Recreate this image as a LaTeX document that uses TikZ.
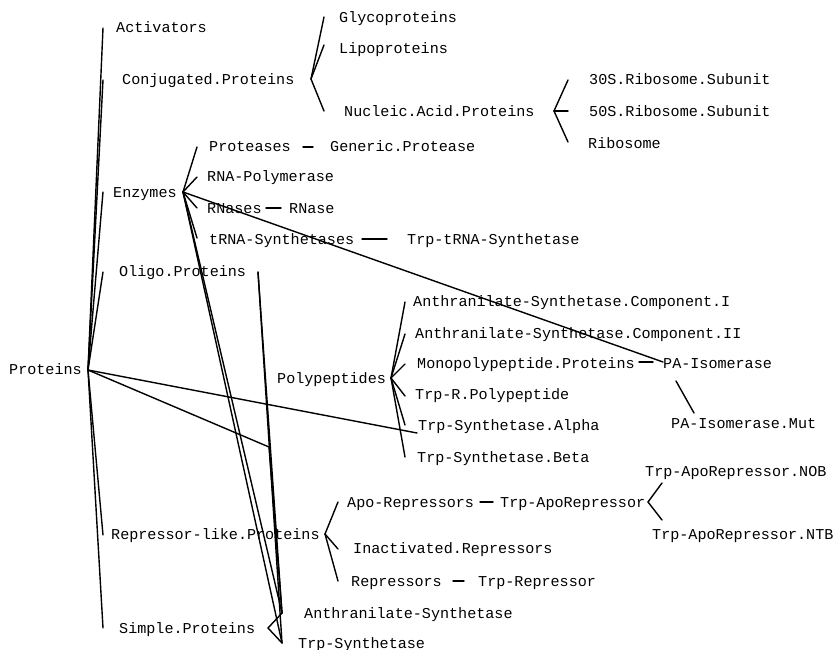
\documentclass[tikz,border=0pt]{standalone}
\usepackage{fontspec}
\newfontfamily\lbfont{Liberation Mono}
\begin{document}
\begin{tikzpicture}[x=1pt,y=-1pt,
  lbl/.style={anchor=base west, inner sep=0pt, yshift=-1.5pt, font=\lbfont\fontsize{15.1pt}{18pt}\selectfont},
  conn/.style={line width=1.4pt, line cap=round}]
\useasboundingbox[fill=white] (0,0) rectangle (835,650);
% ---- labels (x = left edge, y = baseline)
\node[lbl] (Proteins) at (9,373) {Proteins};
\node[lbl] (Activators) at (116,31) {Activators};
\node[lbl] (Conj) at (122,83) {Conjugated.Proteins};
\node[lbl] (Glyco) at (339,21) {Glycoproteins};
\node[lbl] (Lipo) at (339,52) {Lipoproteins};
\node[lbl] (Nucleic) at (344,115) {Nucleic.Acid.Proteins};
\node[lbl] (S30) at (589,83) {30S.Ribosome.Subunit};
\node[lbl] (S50) at (589,115) {50S.Ribosome.Subunit};
\node[lbl] (Ribosome) at (588,147) {Ribosome};
\node[lbl] (Enzymes) at (113,196) {Enzymes};
\node[lbl] (Proteases) at (209,150) {Proteases};
\node[lbl] (GenProt) at (330,150) {Generic.Protease};
\node[lbl] (RNAPol) at (207,180) {RNA-Polymerase};
\node[lbl] (RNases) at (207,212) {RNases};
\node[lbl] (RNase) at (289,212) {RNase};
\node[lbl] (tRNAS) at (209,243) {tRNA-Synthetases};
\node[lbl] (TrptRNA) at (407,243) {Trp-tRNA-Synthetase};
\node[lbl] (Oligo) at (119,275) {Oligo.Proteins};
\node[lbl] (Poly) at (277,382) {Polypeptides};
\node[lbl] (CompI) at (413,305) {Anthranilate-Synthetase.Component.I};
\node[lbl] (CompII) at (415,337) {Anthranilate-Synthetase.Component.II};
\node[lbl] (Mono) at (417,367) {Monopolypeptide.Proteins};
\node[lbl] (PAIso) at (663,367) {PA-Isomerase};
\node[lbl] (TrpR) at (415,398) {Trp-R.Polypeptide};
\node[lbl] (Alpha) at (418,429) {Trp-Synthetase.Alpha};
\node[lbl] (PAMut) at (671,427) {PA-Isomerase.Mut};
\node[lbl] (Beta) at (417,461) {Trp-Synthetase.Beta};
\node[lbl] (NOB) at (645,475) {Trp-ApoRepressor.NOB};
\node[lbl] (ApoReps) at (347,506) {Apo-Repressors};
\node[lbl] (TrpApo) at (500,506) {Trp-ApoRepressor};
\node[lbl] (NTB) at (652,538) {Trp-ApoRepressor.NTB};
\node[lbl] (RepLike) at (111,538) {Repressor-like.Proteins};
\node[lbl] (Inact) at (353,552) {Inactivated.Repressors};
\node[lbl] (Reps) at (351,585) {Repressors};
\node[lbl] (TrpRep) at (478,585) {Trp-Repressor};
\node[lbl] (AS) at (304,617) {Anthranilate-Synthetase};
\node[lbl] (Simple) at (119,632) {Simple.Proteins};
\node[lbl] (TS) at (298,647) {Trp-Synthetase};
% ---- ports
\coordinate (proO) at (88,370);
\coordinate (conjO) at (311,79);
\coordinate (nucO) at (554,111);
\coordinate (enzO) at (183,192);
\coordinate (oligoO) at (258,272);
\coordinate (polyO) at (391,378);
\coordinate (repO) at (325,534);
\coordinate (apoTO) at (648,502);
\coordinate (simpleO) at (268,628);
\coordinate (paO) at (676,381);
\coordinate (actI) at (103,28);
\coordinate (conjI) at (103,80);
\coordinate (enzI) at (103,192);
\coordinate (oligoI) at (103,272);
\coordinate (repI) at (103,535);
\coordinate (simpleI) at (103,628);
\coordinate (alphaI2) at (417,433);
\coordinate (bend) at (269,447);
\coordinate (glyI) at (324,17);
\coordinate (lipI) at (324,45);
\coordinate (nucI) at (324,111);
\coordinate (s30I) at (568,80);
\coordinate (s50I) at (568,111);
\coordinate (ribI) at (568,142);
\coordinate (protsI) at (197,147);
\coordinate (rnapI) at (197,177);
\coordinate (rnasesI) at (197,208);
\coordinate (trnaI) at (197,238);
\coordinate (paI) at (663,362);
\coordinate (asI) at (282,613);
\coordinate (tsI) at (282,643);
\coordinate (c1I) at (405,302);
\coordinate (c2I) at (405,334);
\coordinate (monoI) at (405,364);
\coordinate (trpRI) at (405,396);
\coordinate (alphaI) at (405,425);
\coordinate (betaI) at (405,457);
\coordinate (apoI) at (338,502);
\coordinate (inactI) at (338,549);
\coordinate (repsI) at (338,581);
\coordinate (nobI) at (662,483);
\coordinate (ntbI) at (662,520);
\coordinate (paMutI) at (694,413);
\coordinate (d1a) at (303,147); \coordinate (d1b) at (313,147);
\coordinate (d2a) at (266,208); \coordinate (d2b) at (281,208);
\coordinate (d3a) at (362,239); \coordinate (d3b) at (387,239);
\coordinate (d4a) at (639,362); \coordinate (d4b) at (653,362);
\coordinate (d5a) at (480,502); \coordinate (d5b) at (493,502);
\coordinate (d6a) at (453,581); \coordinate (d6b) at (464,581);
% ---- connectors
\draw[conn] (proO) -- (actI);
\draw[conn] (proO) -- (conjI);
\draw[conn] (proO) -- (enzI);
\draw[conn] (proO) -- (oligoI);
\draw[conn] (proO) -- (repI);
\draw[conn] (proO) -- (simpleI);
\draw[conn] (proO) -- (alphaI2);
\draw[conn] (proO) -- (bend) -- (asI);
\draw[conn] (conjO) -- (glyI);
\draw[conn] (conjO) -- (lipI);
\draw[conn] (conjO) -- (nucI);
\draw[conn] (nucO) -- (s30I);
\draw[conn] (nucO) -- (s50I);
\draw[conn] (nucO) -- (ribI);
\draw[conn] (enzO) -- (protsI);
\draw[conn] (enzO) -- (rnapI);
\draw[conn] (enzO) -- (rnasesI);
\draw[conn] (enzO) -- (trnaI);
\draw[conn] (enzO) -- (paI);
\draw[conn] (enzO) -- (asI);
\draw[conn] (enzO) -- (tsI);
\draw[conn] (oligoO) -- (asI);
\draw[conn] (oligoO) -- (tsI);
\draw[conn] (polyO) -- (c1I);
\draw[conn] (polyO) -- (c2I);
\draw[conn] (polyO) -- (monoI);
\draw[conn] (polyO) -- (trpRI);
\draw[conn] (polyO) -- (alphaI);
\draw[conn] (polyO) -- (betaI);
\draw[conn] (repO) -- (apoI);
\draw[conn] (repO) -- (inactI);
\draw[conn] (repO) -- (repsI);
\draw[conn] (apoTO) -- (nobI);
\draw[conn] (apoTO) -- (ntbI);
\draw[conn] (simpleO) -- (asI);
\draw[conn] (simpleO) -- (tsI);
\draw[conn] (paO) -- (paMutI);
\draw[conn] (d1a) -- (d1b);
\draw[conn] (d2a) -- (d2b);
\draw[conn] (d3a) -- (d3b);
\draw[conn] (d4a) -- (d4b);
\draw[conn] (d5a) -- (d5b);
\draw[conn] (d6a) -- (d6b);
\end{tikzpicture}
\end{document}
